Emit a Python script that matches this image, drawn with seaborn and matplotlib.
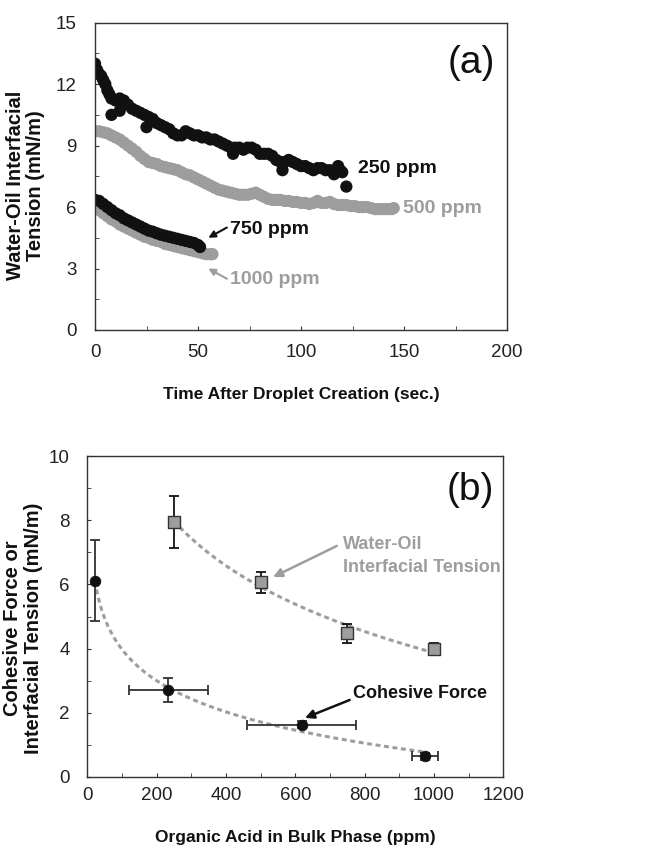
import numpy as np
import pandas as pd
import seaborn as sns
import matplotlib.pyplot as plt
from matplotlib.ticker import MultipleLocator

# ---- panel (a): interfacial tension vs time ----
t_250 = [0, 1, 2, 3, 4, 5, 6, 7, 8, 10, 12, 14, 16, 18, 20, 22, 24, 26, 28, 30,
         32, 34, 36, 38, 40, 42, 44, 46, 48, 50, 52, 54, 56, 58, 60, 62, 64, 66,
         68, 70, 72, 74, 76, 78, 80, 82, 84, 86, 88, 90, 92, 94, 96, 98, 100, 102,
         104, 106, 108, 110, 112, 114, 116, 118, 119, 120, 122,
         8, 12, 25, 67, 91, 116]
ift_250 = [13.0, 12.7, 12.5, 12.4, 12.2, 12.0, 11.7, 11.5, 11.3, 11.2, 11.3, 11.2,
           11.0, 10.8, 10.7, 10.6, 10.5, 10.4, 10.3, 10.1, 10.0, 9.9, 9.8, 9.6,
           9.5, 9.5, 9.7, 9.6, 9.5, 9.5, 9.4, 9.4, 9.3, 9.3, 9.2, 9.1, 9.0, 8.9,
           8.9, 8.9, 8.8, 8.9, 8.9, 8.8, 8.6, 8.6, 8.6, 8.5, 8.3, 8.2, 8.2, 8.3,
           8.2, 8.1, 8.0, 8.0, 7.9, 7.8, 7.9, 7.9, 7.8, 7.8, 7.7, 8.0, 7.8, 7.7,
           7.0,
           10.5, 10.7, 9.9, 8.6, 7.8, 7.6]

t_500 = [0, 2, 4, 6, 8, 10, 12, 14, 16, 18, 20, 22, 24, 26, 28, 30, 32, 34, 36,
         38, 40, 42, 44, 46, 48, 50, 52, 54, 56, 58, 60, 62, 64, 66, 68, 70, 72,
         74, 76, 78, 80, 82, 84, 86, 88, 90, 92, 94, 96, 98, 100, 102, 104, 106,
         108, 110, 112, 114, 116, 118, 120, 122, 124, 126, 128, 130, 132, 134,
         136, 138, 140, 142, 144, 145]
ift_500 = [9.7, 9.7, 9.65, 9.6, 9.5, 9.4, 9.3, 9.15, 9.0, 8.85, 8.7, 8.5, 8.35,
           8.2, 8.15, 8.1, 8.0, 7.95, 7.9, 7.85, 7.8, 7.7, 7.6, 7.55, 7.45, 7.35,
           7.25, 7.15, 7.05, 6.95, 6.85, 6.8, 6.75, 6.7, 6.65, 6.6, 6.6, 6.6,
           6.65, 6.7, 6.6, 6.5, 6.4, 6.35, 6.35, 6.35, 6.3, 6.3, 6.25, 6.25, 6.2,
           6.2, 6.15, 6.2, 6.3, 6.2, 6.2, 6.25, 6.15, 6.1, 6.1, 6.1, 6.05, 6.05,
           6.0, 6.0, 6.0, 5.95, 5.9, 5.9, 5.9, 5.9, 5.9, 5.95]

t_750 = [0, 2, 4, 6, 8, 10, 12, 14, 16, 18, 20, 22, 24, 26, 28, 30, 32, 34, 36,
         38, 40, 42, 44, 46, 48, 50, 51]
ift_750 = [6.35, 6.3, 6.15, 6.0, 5.85, 5.7, 5.6, 5.45, 5.35, 5.25, 5.15, 5.05,
           4.95, 4.85, 4.8, 4.72, 4.65, 4.6, 4.55, 4.5, 4.45, 4.4, 4.35, 4.3,
           4.25, 4.15, 4.05]

t_1000 = [0, 2, 4, 6, 8, 10, 12, 14, 16, 18, 20, 22, 24, 26, 28, 30, 32, 34, 36,
          38, 40, 42, 44, 46, 48, 50, 52, 54, 56, 57]
ift_1000 = [6.0, 5.85, 5.7, 5.55, 5.4, 5.3, 5.15, 5.05, 4.95, 4.85, 4.75, 4.65,
            4.55, 4.5, 4.4, 4.35, 4.3, 4.2, 4.15, 4.1, 4.05, 4.0, 3.95, 3.9, 3.85,
            3.8, 3.75, 3.7, 3.7, 3.7]

# ---- panel (b): cohesive force and IFT vs acid concentration ----
ift_conc = [250, 500, 750, 1000]
ift_mean = [7.95, 6.07, 4.48, 3.99]
ift_err = [0.82, 0.33, 0.30, 0.17]

coh_conc = [22, 234, 618, 974]
coh_mean = [6.11, 2.70, 1.63, 0.64]
coh_yerr = [1.26, 0.37, 0.10, 0.10]
coh_xerr = [0, 113, 158, 37]

GRAY = '#9d9d9d'
DARK = '#111111'

sns.set_style('ticks')
plt.rcParams['font.family'] = ['Liberation Sans', 'DejaVu Sans']
plt.rcParams['axes.edgecolor'] = '#333333'
plt.rcParams['axes.linewidth'] = 1.0

fig = plt.figure(figsize=(6.45, 8.5), dpi=100)
ax1 = fig.add_axes([0.1473, 0.6118, 0.6388, 0.3615])
ax2 = fig.add_axes([0.1353, 0.0859, 0.6450, 0.3776])

# ---------------- panel (a) ----------------
df_a = pd.concat([
    pd.DataFrame({'t': t_500, 'ift': ift_500, 'conc': '500 ppm'}),
    pd.DataFrame({'t': t_1000, 'ift': ift_1000, 'conc': '1000 ppm'}),
    pd.DataFrame({'t': t_250, 'ift': ift_250, 'conc': '250 ppm'}),
    pd.DataFrame({'t': t_750, 'ift': ift_750, 'conc': '750 ppm'}),
])
pal_a = {'500 ppm': GRAY, '1000 ppm': GRAY, '250 ppm': DARK, '750 ppm': DARK}
sns.scatterplot(data=df_a, x='t', y='ift', hue='conc', palette=pal_a, s=78,
                linewidth=0, legend=False, ax=ax1)

ax1.set_xlim(0, 200)
ax1.set_ylim(0, 15)
ax1.xaxis.set_major_locator(MultipleLocator(50))
ax1.xaxis.set_minor_locator(MultipleLocator(25))
ax1.yaxis.set_major_locator(MultipleLocator(3))
ax1.yaxis.set_minor_locator(MultipleLocator(1.5))
ax1.tick_params(axis='both', which='both', direction='in', labelsize=13.5,
                colors='#333333', labelcolor='#222222', length=3)
ax1.tick_params(axis='y', pad=13)
ax1.tick_params(axis='x', pad=10)
ax1.set_xlabel('Time After Droplet Creation (sec.)', fontsize=12.5,
               fontweight='bold', color=DARK)
ax1.set_ylabel('Water-Oil Interfacial\nTension (mN/m)', fontsize=14.5,
               fontweight='bold', color=DARK, linespacing=1.1)
ax1.xaxis.set_label_coords(0.5, -0.185)
ax1.yaxis.set_label_coords(-0.121, 0.47)

ax1.text(0.913, 0.869, '(a)', transform=ax1.transAxes, fontsize=28,
         ha='center', va='center', color=DARK)
ax1.text(127.7, 7.9, '250 ppm', fontsize=14, fontweight='bold', color=DARK,
         ha='left', va='center')
ax1.text(149.5, 5.95, '500 ppm', fontsize=14, fontweight='bold', color=GRAY,
         ha='left', va='center')
ax1.text(65.5, 4.9, '750 ppm', fontsize=14, fontweight='bold', color=DARK,
         ha='left', va='center')
ax1.text(65.5, 2.45, '1000 ppm', fontsize=14, fontweight='bold', color=GRAY,
         ha='left', va='center')
ax1.annotate('', xy=(55, 4.5), xytext=(64, 5.0),
             arrowprops=dict(arrowstyle='-|>', color=DARK, lw=1.5,
                             mutation_scale=10, shrinkA=0, shrinkB=0))
ax1.annotate('', xy=(55, 3.0), xytext=(64, 2.5),
             arrowprops=dict(arrowstyle='-|>', color=GRAY, lw=1.5,
                             mutation_scale=10, shrinkA=0, shrinkB=0))

# ---------------- panel (b) ----------------
# logarithmic trend lines fitted to the points
b_ift, a_ift = np.polyfit(np.log(ift_conc), ift_mean, 1)
b_coh, a_coh = np.polyfit(np.log(coh_conc), coh_mean, 1)
xi = np.linspace(min(ift_conc), max(ift_conc), 200)
xc = np.linspace(min(coh_conc), max(coh_conc), 200)
sns.lineplot(x=xi, y=a_ift + b_ift * np.log(xi), ax=ax2, color=GRAY, lw=2.2,
             zorder=1).lines[-1].set_dashes((1.6, 1.2))
sns.lineplot(x=xc, y=a_coh + b_coh * np.log(xc), ax=ax2, color=GRAY, lw=2.2,
             zorder=1).lines[-1].set_dashes((1.6, 1.2))

ax2.errorbar(ift_conc, ift_mean, yerr=ift_err, fmt='none', ecolor=DARK,
             elinewidth=1.3, capsize=3.5, capthick=1.3, zorder=2)
ax2.errorbar(coh_conc, coh_mean, yerr=coh_yerr, xerr=coh_xerr, fmt='none',
             ecolor='#333333', elinewidth=1.3, capsize=3.5, capthick=1.3, zorder=2)
sns.scatterplot(x=ift_conc, y=ift_mean, marker='s', s=85, color=GRAY,
                edgecolor='#333333', linewidth=1.0, ax=ax2, zorder=3)
sns.scatterplot(x=coh_conc, y=coh_mean, marker='o', s=60, color=DARK,
                edgecolor=DARK, linewidth=0.5, ax=ax2, zorder=3)

ax2.set_xlim(0, 1200)
ax2.set_ylim(0, 10)
ax2.xaxis.set_major_locator(MultipleLocator(200))
ax2.xaxis.set_minor_locator(MultipleLocator(100))
ax2.yaxis.set_major_locator(MultipleLocator(2))
ax2.yaxis.set_minor_locator(MultipleLocator(1))
ax2.tick_params(axis='both', which='both', direction='in', labelsize=13.5,
                colors='#333333', labelcolor='#222222', length=3)
ax2.tick_params(axis='y', pad=12.5)
ax2.tick_params(axis='x', pad=7)
ax2.set_xlabel('Organic Acid in Bulk Phase (ppm)', fontsize=12.5,
               fontweight='bold', color=DARK)
ax2.set_ylabel('Cohesive Force or\nInterfacial Tension (mN/m)', fontsize=14.5,
               fontweight='bold', color=DARK, linespacing=1.1)
ax2.xaxis.set_label_coords(0.5, -0.165)
ax2.yaxis.set_label_coords(-0.1065, 0.464)

ax2.text(0.92, 0.894, '(b)', transform=ax2.transAxes, fontsize=28,
         ha='center', va='center', color=DARK)
ax2.text(737, 6.88, 'Water-Oil\nInterfacial Tension', fontsize=13,
         fontweight='bold', color=GRAY, ha='left', va='center', linespacing=1.5)
ax2.text(767, 2.59, 'Cohesive Force', fontsize=13, fontweight='bold',
         color=DARK, ha='left', va='center')
ax2.annotate('', xy=(536, 6.23), xytext=(720, 7.2),
             arrowprops=dict(arrowstyle='-|>', color=GRAY, lw=1.8,
                             mutation_scale=13, shrinkA=0, shrinkB=0))
ax2.annotate('', xy=(628, 1.84), xytext=(757, 2.4),
             arrowprops=dict(arrowstyle='-|>', color=DARK, lw=1.8,
                             mutation_scale=13, shrinkA=0, shrinkB=0))

fig.savefig('out.png', dpi=100)
